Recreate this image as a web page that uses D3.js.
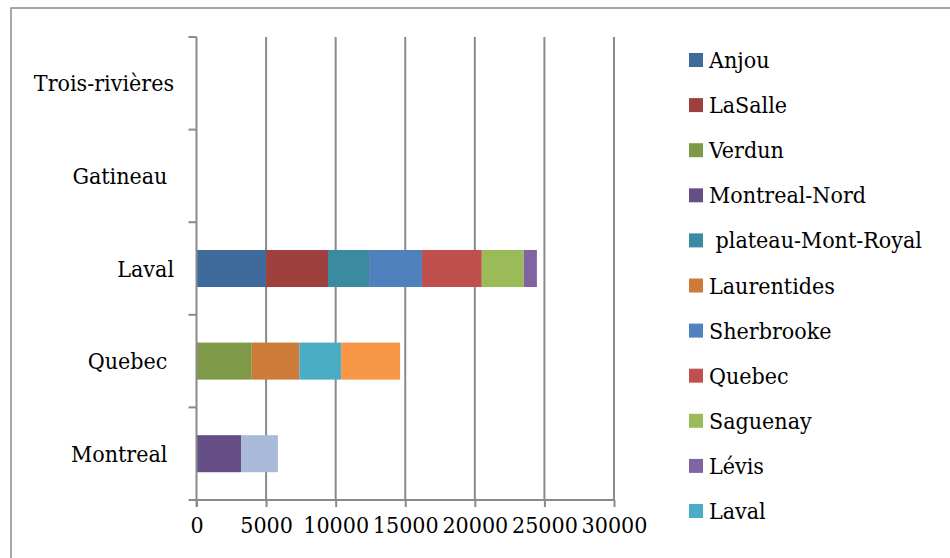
<!DOCTYPE html>
<html>
<head>
<meta charset="utf-8">
<script src="https://cdn.jsdelivr.net/npm/d3@7"></script>
<style>
  html, body { margin: 0; padding: 0; background: #fff; }
  svg text { fill: #000; white-space: pre; font-family: "DejaVu Serif Condensed", "DejaVu Serif"; font-stretch: condensed; }
</style>
</head>
<body>
<svg id="chart" width="950" height="558"></svg>
<script>
// Categories (bottom to top as in the chart)
const categories = ["Montreal ", "Quebec ", "Laval", "Gatineau ", "Trois-rivières"];

// Series names (only the first 11 are visible in the reference legend)
const seriesNames = ["Anjou", "LaSalle", "Verdun", "Montreal-Nord", " plateau-Mont-Royal",
  "Laurentides", "Sherbrooke", "Quebec", "Saguenay", "Lévis", "Laval", "Série 12", "Série 13"];
const legendCount = 11;

// Values per series, in the order of categories
const anjou        = [0, 0, 5000, 0, 0];
const lasalle      = [0, 0, 4450, 0, 0];
const verdun       = [0, 3970, 0, 0, 0];
const montrealNord = [3200, 0, 0, 0, 0];
const plateau      = [0, 0, 2950, 0, 0];
const laurentides  = [0, 3420, 0, 0, 0];
const sherbrooke   = [0, 0, 3800, 0, 0];
const quebecS      = [0, 0, 4300, 0, 0];
const saguenay     = [0, 0, 3020, 0, 0];
const levis        = [0, 0, 940, 0, 0];
const lavalS       = [0, 3000, 0, 0, 0];
const serie12      = [0, 4240, 0, 0, 0];
const serie13      = [2650, 0, 0, 0, 0];
const seriesValues = [anjou, lasalle, verdun, montrealNord, plateau, laurentides,
  sherbrooke, quebecS, saguenay, levis, lavalS, serie12, serie13];

const colors = ["#3E6A9C", "#9E403D", "#7E9A48", "#664F86", "#3A8BA0", "#CC7B38",
  "#4F81BD", "#C0504D", "#9BBB59", "#8064A2", "#4BACC6", "#F79646", "#A9BAD8"];

const xTicks = [0, 5000, 10000, 15000, 20000, 25000, 30000];

const FS = "23px";

const keys = seriesNames.map((d, i) => "s" + i);
const table = categories.map((c, ci) => {
  const row = { cat: c };
  keys.forEach((k, si) => row[k] = seriesValues[si][ci]);
  return row;
});

const svg = d3.select("#chart");
const gray = "#8a8a8a";

// outer border
svg.append("rect").attr("x", 11).attr("y", 8).attr("width", 1000).attr("height", 600)
  .attr("fill", "none").attr("stroke", gray).attr("stroke-width", 1.5);

const x = d3.scaleLinear().domain([0, 30000]).range([196.5, 614]);
const y = d3.scaleBand().domain(categories).range([500, 37]).paddingInner(0.6).paddingOuter(0.3);
const yOuter = d3.scaleBand().domain(categories).range([500, 37]);

// gridlines
svg.append("g").selectAll("line").data(xTicks.slice(1)).join("line")
  .attr("x1", d => x(d)).attr("x2", d => x(d)).attr("y1", 37).attr("y2", 500)
  .attr("stroke", gray).attr("stroke-width", 2);

// bars
const stacked = d3.stack().keys(keys)(table);
svg.append("g").selectAll("g").data(stacked).join("g")
  .attr("fill", (d, i) => colors[i])
  .selectAll("rect").data(d => d).join("rect")
  .attr("x", d => x(d[0])).attr("width", d => x(d[1]) - x(d[0]))
  .attr("y", d => y(d.data.cat)).attr("height", y.bandwidth());

// x axis
const xAxis = d3.axisBottom(x).tickValues(xTicks).tickSize(7).tickPadding(10).tickFormat(d3.format("d"));
const gx = svg.append("g").attr("transform", "translate(0,500)").call(xAxis);
gx.attr("font-family", null).attr("font-size", null);
gx.select(".domain").attr("stroke", gray).attr("stroke-width", 2).attr("d", `M${x(0)},0H${x(30000)}`);
gx.selectAll(".tick line").attr("stroke", gray).attr("stroke-width", 2);
gx.selectAll(".tick text").style("font-size", FS).attr("fill", "#000");

// y axis
const gy = svg.append("g");
gy.append("line").attr("x1", x(0)).attr("x2", x(0)).attr("y1", 37).attr("y2", 507)
  .attr("stroke", gray).attr("stroke-width", 2);
const boundaries = categories.map(c => yOuter(c)).concat([500]);
gy.selectAll("line.tk").data(boundaries).join("line").attr("class", "tk")
  .attr("x1", x(0) - 8).attr("x2", x(0)).attr("y1", d => d).attr("y2", d => d)
  .attr("stroke", gray).attr("stroke-width", 2);

// category labels
svg.append("g").selectAll("text").data(categories).join("text")
  .attr("x", 174).attr("y", d => yOuter(d) + yOuter.bandwidth() / 2).attr("dy", "0.35em")
  .attr("text-anchor", "end").style("font-size", FS).text(d => d);

// legend
const legend = svg.append("g").selectAll("g").data(seriesNames.slice(0, legendCount)).join("g")
  .attr("transform", (d, i) => `translate(689,${60 + i * 45.1})`);
legend.append("rect").attr("x", 0).attr("y", -7).attr("width", 14).attr("height", 14)
  .attr("fill", (d, i) => colors[i]);
legend.append("text").attr("x", 20).attr("y", 0).attr("dy", "0.35em")
  .style("font-size", FS).text(d => d);
</script>
</body>
</html>
